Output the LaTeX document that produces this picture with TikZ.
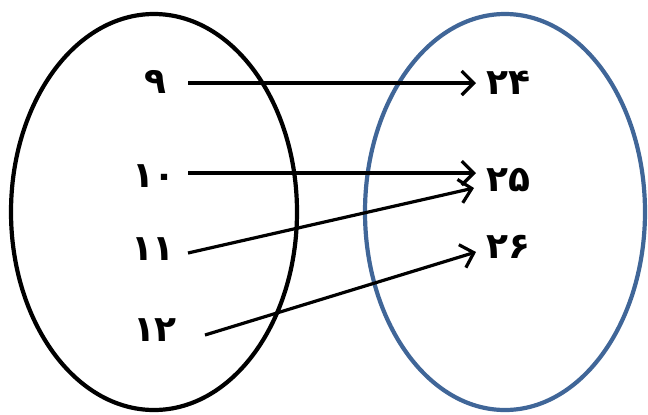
\documentclass[tikz,border=0pt]{standalone}
\usepackage{fontspec}
\newfontfamily\fa[Script=Arabic]{DejaVu Sans}
\usetikzlibrary{shapes.geometric,arrows.meta}
\definecolor{setblue}{RGB}{64,102,152}
\begin{document}
\begin{tikzpicture}[x=0.5pt,y=-0.5pt,
  setbox/.style={ellipse,draw,line width=2.1pt,inner sep=0pt},
  lbl/.style={font=\fa\bfseries\fontsize{18}{21}\selectfont,inner sep=0pt},
  arr/.style={line width=1.6pt,-{Straight Barb[length=6pt,width=12pt,line width=1.6pt]}}]
\useasboundingbox (0,0) rectangle (648,414);
\node[setbox,minimum width=143pt,minimum height=198pt] (A) at (154,212) {};
\node[setbox,draw=setblue,minimum width=140pt,minimum height=198pt] (B) at (505,212) {};
\node[lbl] (l9)  at (155,82)  {۹};
\node[lbl] (l10) at (154,176) {۱۰};
\node[lbl] (l11) at (153,249) {۱۱};
\node[lbl] (l12) at (155,330) {۱۲};
\node[lbl,anchor=west] (r24) at (486,83)  {۲۴};
\node[lbl,anchor=west] (r25) at (486,180) {۲۵};
\node[lbl,anchor=west] (r26) at (486,247) {۲۶};
\draw[arr] ([shift={(33,1)}]l9.center)  -- ([shift={(-10,0)}]r24.west);
\draw[arr] ([shift={(34,-3)}]l10.center) -- ([shift={(-10,-7)}]r25.west);
\draw[arr] ([shift={(35,4)}]l11.center) -- ([shift={(-12,8)}]r25.west);
\draw[arr] ([shift={(50,5)}]l12.center) -- ([shift={(-10,5)}]r26.west);
\end{tikzpicture}
\end{document}
